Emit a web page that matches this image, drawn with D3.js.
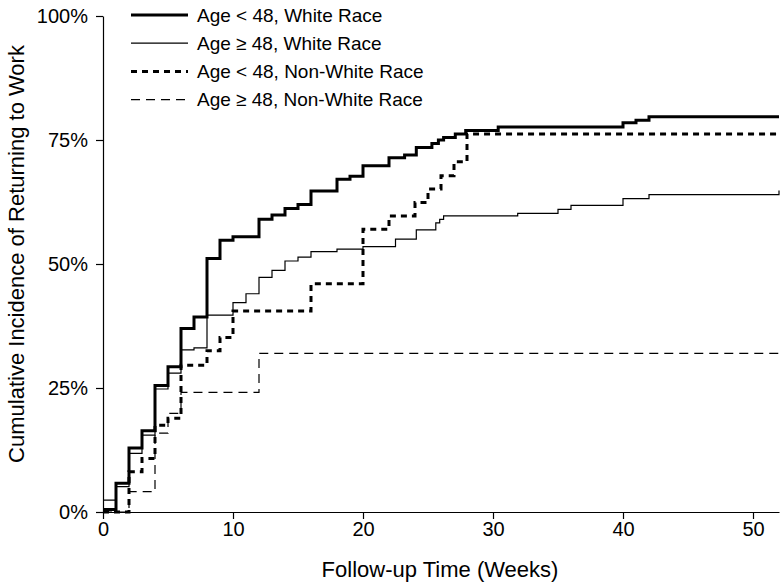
<!DOCTYPE html>
<html>
<head>
<meta charset="utf-8">
<script src="https://cdn.jsdelivr.net/npm/d3@7"></script>
<style>
  html, body { margin: 0; padding: 0; background: #fff; }
  svg { display: block; }
  text { font-family: "Liberation Sans", Arial, Helvetica, sans-serif; fill: #000; }
</style>
</head>
<body>
<svg id="chart" width="783" height="583"></svg>
<script>
// ---- Data ----
const seriesNames = [
  "Age < 48, White Race",
  "Age \u2265 48, White Race",
  "Age < 48, Non-White Race",
  "Age \u2265 48, Non-White Race"
];

// Age < 48, White Race
const weeksYoungWhite = [0, 1, 2, 3, 4, 5, 6, 7, 8, 9, 10, 12, 13, 14, 15, 16, 18, 19, 20, 22, 23.2, 24.1, 25.3, 25.8, 26.2, 27.1, 27.9, 30.4, 40, 41, 42, 52];
const cumYoungWhite  = [0.5, 5.8, 12.9, 16.4, 25.5, 29.3, 37.0, 39.3, 51.1, 54.8, 55.5, 59.0, 59.9, 61.2, 62.0, 64.7, 67.1, 67.7, 69.8, 71.4, 72.0, 73.5, 74.3, 75.0, 75.5, 76.2, 76.9, 77.6, 78.5, 79.0, 79.7, 79.7];

// Age >= 48, White Race
const weeksOldWhite = [0, 1, 2, 3, 4, 5, 6, 7, 8, 10, 11, 12, 13, 14, 15, 16, 18, 20, 22.5, 24.1, 25.6, 25.9, 26.2, 31.9, 35, 36, 40, 42, 52];
const cumOldWhite   = [2.4, 5.1, 11.8, 15.5, 24.8, 28.0, 32.7, 33.1, 39.7, 42.2, 44.0, 47.3, 48.7, 50.6, 51.4, 52.5, 53.0, 53.5, 55.0, 56.9, 58.3, 59.0, 59.7, 60.2, 61.0, 61.8, 63.2, 64.0, 64.8];

// Age < 48, Non-White Race
const weeksYoungNonWhite = [0, 2, 3, 4, 5, 6, 8, 9, 10, 16, 20, 22, 24, 25, 26, 27, 28, 52];
const cumYoungNonWhite   = [0, 8.1, 10.8, 17.5, 18.9, 29.6, 32.5, 35.2, 40.5, 46.0, 57.0, 59.7, 62.4, 65.1, 67.8, 70.6, 76.2, 76.2];

// Age >= 48, Non-White Race
const weeksOldNonWhite = [0, 2, 4, 5, 6, 12, 52];
const cumOldNonWhite   = [0, 4.1, 15.9, 19.9, 24.1, 32.0, 32.0];

const xTicks = [0, 10, 20, 30, 40, 50];
const yTicks = [0, 25, 50, 75, 100];

// ---- Styles ----
const styles = [
  { width: 3,   dash: null },
  { width: 1.2, dash: null },
  { width: 3,   dash: "6,5" },
  { width: 1.2, dash: "9,6" }
];

const series = [
  { name: seriesNames[0], weeks: weeksYoungWhite,    cum: cumYoungWhite },
  { name: seriesNames[1], weeks: weeksOldWhite,      cum: cumOldWhite },
  { name: seriesNames[2], weeks: weeksYoungNonWhite, cum: cumYoungNonWhite },
  { name: seriesNames[3], weeks: weeksOldNonWhite,   cum: cumOldNonWhite }
];

const svg = d3.select("#chart");
const x = d3.scaleLinear().domain([0, 52]).range([103, 779]);
const y = d3.scaleLinear().domain([0, 100]).range([512, 16]);

// Axes
const xAxis = d3.axisBottom(x).tickValues(xTicks).tickSize(7).tickPadding(3).tickSizeOuter(0);
const yAxis = d3.axisLeft(y).tickValues(yTicks).tickSize(7).tickPadding(8).tickSizeOuter(0)
  .tickFormat(d => d + "%");

const gx = svg.append("g").attr("transform", `translate(0,${y(0)})`).call(xAxis);
const gy = svg.append("g").attr("transform", `translate(${x(0)},0)`).call(yAxis);
[gx, gy].forEach(g => {
  g.select(".domain").attr("stroke", "#000").attr("stroke-width", 1.2);
  g.selectAll(".tick line").attr("stroke", "#000").attr("stroke-width", 1.2);
  g.selectAll(".tick text").attr("font-size", 20).attr("font-family", "'Liberation Sans', Arial, sans-serif").attr("fill", "#000");
});

// Lines
const line = d3.line()
  .x(d => x(d[0]))
  .y(d => y(d[1]))
  .curve(d3.curveStepAfter);

series.forEach((s, i) => {
  const pts = s.weeks.map((w, k) => [w, s.cum[k]]);
  svg.append("path")
    .datum(pts)
    .attr("fill", "none")
    .attr("stroke", "#000")
    .attr("stroke-width", styles[i].width)
    .attr("stroke-dasharray", styles[i].dash)
    .attr("d", line);
});

// Legend
const legend = svg.append("g");
series.forEach((s, i) => {
  const yy = 15 + i * 28.2;
  legend.append("line")
    .attr("x1", 131).attr("x2", 188)
    .attr("y1", yy).attr("y2", yy)
    .attr("stroke", "#000")
    .attr("stroke-width", styles[i].width)
    .attr("stroke-dasharray", styles[i].dash);
  legend.append("text")
    .attr("x", 197).attr("y", yy)
    .attr("dy", "0.36em")
    .attr("font-size", 19)
    .text(s.name);
});

// Axis titles
svg.append("text")
  .attr("x", 440).attr("y", 577)
  .attr("text-anchor", "middle")
  .attr("font-size", 22)
  .text("Follow-up Time (Weeks)");

svg.append("text")
  .attr("transform", `translate(24,${254}) rotate(-90)`)
  .attr("text-anchor", "middle")
  .attr("font-size", 22)
  .text("Cumulative Incidence of Returning to Work");
</script>
</body>
</html>
